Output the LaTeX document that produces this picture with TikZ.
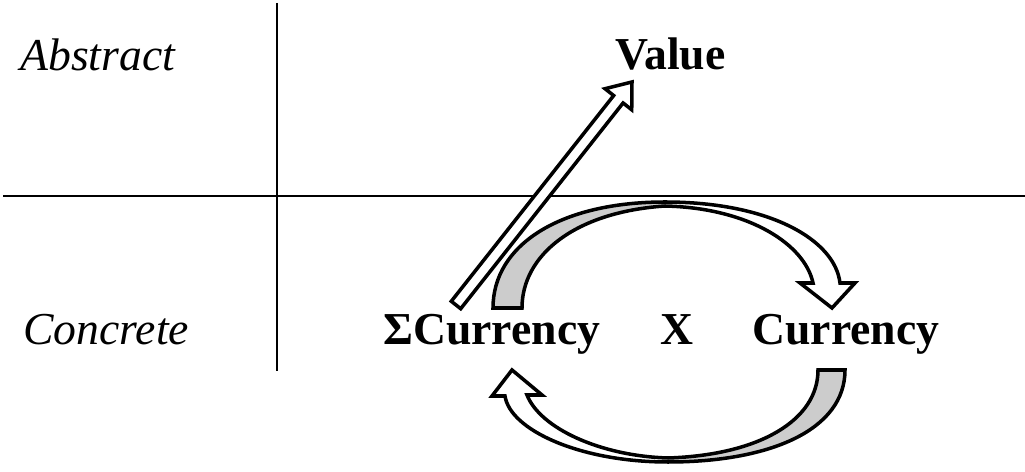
\documentclass[tikz,border=0pt]{standalone}
\usepackage{fontspec}
\setmainfont{Liberation Serif}
\usetikzlibrary{calc}

\begin{document}
\begin{tikzpicture}[x=0.02cm, y=-0.02cm,
    lbl/.style={anchor=base west, inner sep=0pt, font=\fontsize{26}{30}\selectfont\itshape},
    term/.style={anchor=base west, inner sep=0pt, font=\fontsize{26}{30}\selectfont\bfseries},
    rib/.style={draw=black, line width=2pt, line join=miter},
    back/.style={fill=black!20},
    front/.style={fill=white}
]
\useasboundingbox (0,0) rectangle (1025,472);

% quadrant lines
\draw[line width=1pt] (277,3) -- (277,371);
\draw[line width=1pt] (3,196) -- (1025,196);

\node[lbl] (abstract) at (20,71) {Abstract};
\node[lbl] (concrete) at (23,345) {Concrete};
\node[term] (value) at (615,70) {Value};
\node[term] (sumcur) at (383,345) {ΣCurrency};
\node[term] (times) at (660,345) {X};
\node[term] (cur) at (752,345) {Currency};

% hollow arrow up to value
\coordinate (s) at (456,305);
\coordinate (t) at (632,82);
\coordinate (hb) at ($(t)!0.44cm!(s)$);
\draw[rib, front] ($(s)!0.12cm!90:(t)$) -- ($(hb)!0.12cm!90:(t)$) -- ($(hb)!0.34cm!90:(t)$)
    -- (t) -- ($(hb)!0.34cm!-90:(t)$) -- ($(hb)!0.12cm!-90:(t)$) -- ($(s)!0.12cm!-90:(t)$) -- cycle;

% upper ribbon, sumcur to cur
\fill[back] (493,308) -- (522,308) .. controls (522,255) and (575,212) .. (665,206)
    -- (665,202) .. controls (560,202) and (493,245) .. (493,308) -- cycle;
\fill[front] (665,202) .. controls (770,202) and (835,240) .. (840,283) -- (855,283) -- (832,308)
    -- (800,283) -- (813,283) .. controls (805,245) and (750,208) .. (665,206) -- cycle;
\draw[rib] (493,308) .. controls (493,245) and (560,202) .. (665,202)
    .. controls (770,202) and (835,240) .. (840,283) -- (855,283) -- (832,308)
    -- (800,283) -- (813,283) .. controls (805,245) and (750,208) .. (665,206)
    .. controls (575,212) and (522,255) .. (522,308) -- cycle;

% lower ribbon, cur back to sumcur
\fill[back] (818,370) -- (845,370) .. controls (845,430) and (770,462) .. (668,462)
    -- (668,458) .. controls (760,455) and (818,420) .. (818,370) -- cycle;
\fill[front] (668,462) .. controls (580,462) and (510,430) .. (505,396) -- (492,396) -- (512,370)
    -- (542,395) -- (527,395) .. controls (540,428) and (600,456) .. (668,458) -- cycle;
\draw[rib] (845,370) .. controls (845,430) and (770,462) .. (668,462)
    .. controls (580,462) and (510,430) .. (505,396) -- (492,396) -- (512,370)
    -- (542,395) -- (527,395) .. controls (540,428) and (600,456) .. (668,458)
    .. controls (760,455) and (818,420) .. (818,370) -- cycle;
\end{tikzpicture}
\end{document}
